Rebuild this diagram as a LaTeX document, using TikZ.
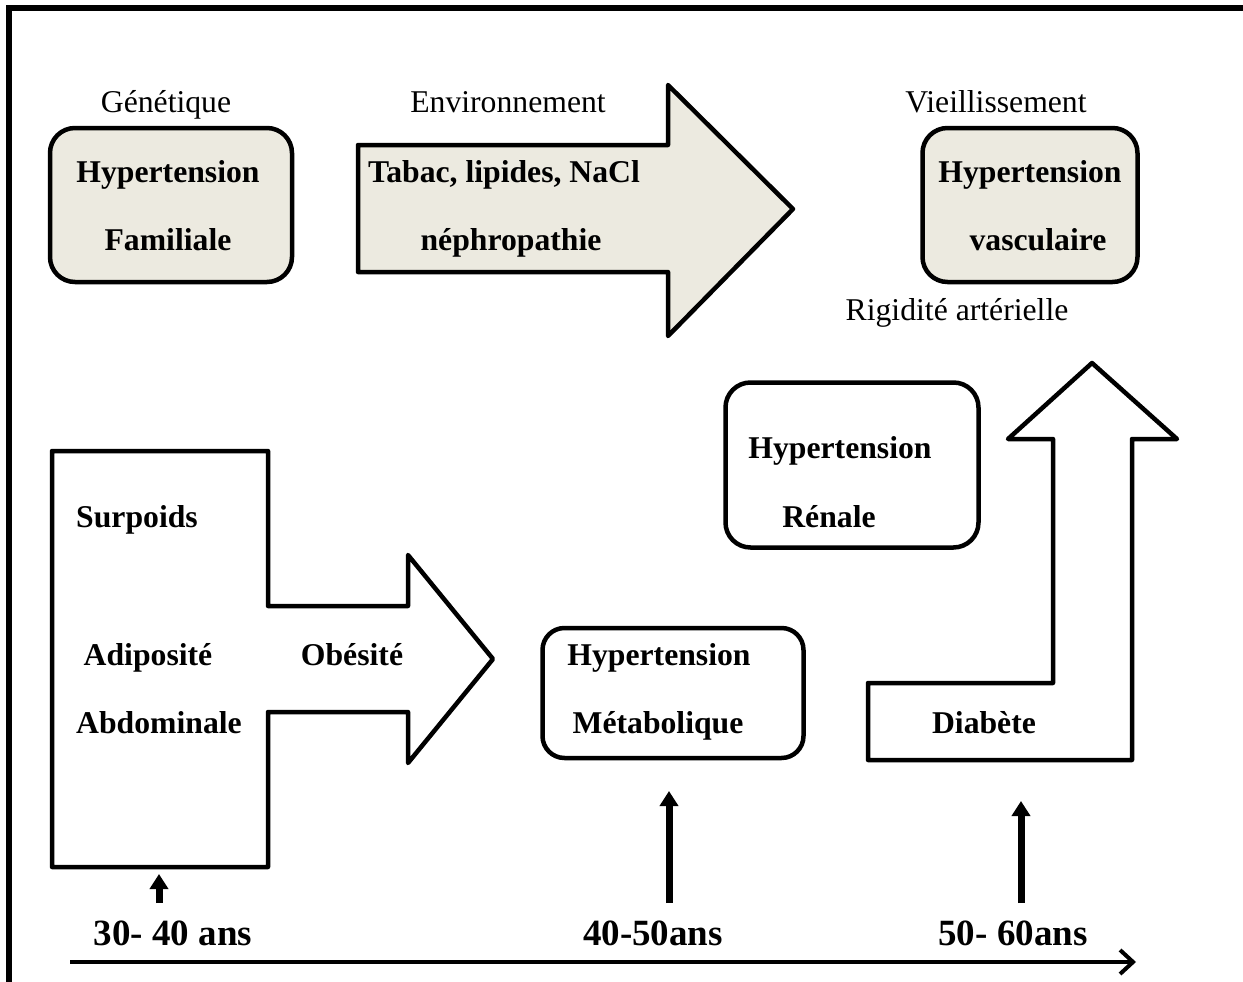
\documentclass[tikz,border=0pt]{standalone}
\usepackage{fontspec}
\setmainfont{Liberation Serif}
\usetikzlibrary{arrows.meta}
\definecolor{boxfill}{RGB}{236,234,224}
\begin{document}
\begin{tikzpicture}[x=1pt,y=-1pt,
  rbox/.style={draw, line width=4.5pt, inner sep=0pt},
  blockarrow/.style={draw, line width=4.5pt, line join=round},
  txt/.style={inner sep=0pt, anchor=base, font=\fontsize{31.7}{38}\selectfont},
  btxt/.style={inner sep=0pt, anchor=base, font=\fontsize{31.7}{38}\selectfont\bfseries},
  agetxt/.style={inner sep=0pt, anchor=base, font=\fontsize{37}{44}\selectfont\bfseries},
  uparrow/.style={line width=7pt, -{Triangle[length=15pt,width=18pt]}}
]
\useasboundingbox (0,0) rectangle (1243,982);

% frame (top and left edges)
\draw[line width=6pt] (8.5,995) -- (8.5,8) -- (1255,8);

% ---- top row ----
\node[rbox, fill=boxfill, rounded corners=25pt, minimum width=242pt, minimum height=154pt] (gen) at (171,205) {};
\node[txt]  (genlbl) at (166,112) {Génétique};
\node[btxt] (gen1) at (168,182) {Hypertension};
\node[btxt] (gen2) at (168,250) {Familiale};

\filldraw[blockarrow, fill=boxfill] (358,145) -- (668,145) -- (668,85) -- (793,209)
  -- (668,336) -- (668,272) -- (358,272) -- cycle;
\node[txt]  (envlbl) at (508,112) {Environnement};
\node[btxt] (env1) at (504,182) {Tabac, lipides, NaCl};
\node[btxt] (env2) at (511,250) {néphropathie};

\node[rbox, fill=boxfill, rounded corners=25pt, minimum width=215pt, minimum height=154pt] (vas) at (1030,205) {};
\node[txt]  (vaslbl) at (996,112) {Vieillissement};
\node[btxt] (vas1) at (1030,182) {Hypertension};
\node[btxt] (vas2) at (1038,250) {vasculaire};
\node[txt]  (rig) at (957,320) {Rigidité artérielle};

% ---- renal box ----
\node[rbox, rounded corners=25pt, minimum width=253pt, minimum height=165pt] (ren) at (852,465) {};
\node[btxt] (ren1) at (840,458) {Hypertension};
\node[btxt] (ren2) at (829,527) {Rénale};

% ---- overweight arrow ----
\draw[blockarrow] (52,451) -- (268,451) -- (268,606) -- (408,606) -- (408,555) -- (493,659)
  -- (408,763) -- (408,712) -- (268,712) -- (268,867) -- (52,867) -- cycle;
\node[btxt] (sur) at (137,527) {Surpoids};
\node[btxt] (adi) at (148,665) {Adiposité};
\node[btxt] (obe) at (352,665) {Obésité};
\node[btxt] (abd) at (159,733) {Abdominale};

% ---- metabolic box ----
\node[rbox, rounded corners=22pt, minimum width=261pt, minimum height=130pt] (met) at (673,693) {};
\node[btxt] (met1) at (659,665) {Hypertension};
\node[btxt] (met2) at (658,733) {Métabolique};

% ---- diabetes arrow ----
\draw[blockarrow] (868,760) -- (1132,760) -- (1132,439) -- (1177,439) -- (1092,363)
  -- (1008,439) -- (1053,439) -- (1053,683) -- (868,683) -- cycle;
\node[btxt] (dia) at (984,733) {Diabète};

% ---- age scale ----
\node[agetxt] (age1) at (173,945) {30- 40 ans};
\node[agetxt] (age2) at (653,945) {40-50ans};
\node[agetxt] (age3) at (1013,945) {50- 60ans};

\coordinate (u1s) at (159,903);
\coordinate (u1e) at (159,874);
\coordinate (u2s) at (669,903);
\coordinate (u2e) at (669,791);
\coordinate (u3s) at (1021,903);
\coordinate (u3e) at (1021,801);
\draw[uparrow] (u1s) -- (u1e);
\draw[uparrow] (u2s) -- (u2e);
\draw[uparrow] (u3s) -- (u3e);

\coordinate (ts) at (70,962);
\coordinate (te) at (1136,962);
\draw[line width=4pt, -{Straight Barb[length=13pt,width=24pt]}] (ts) -- (te);
\end{tikzpicture}
\end{document}
